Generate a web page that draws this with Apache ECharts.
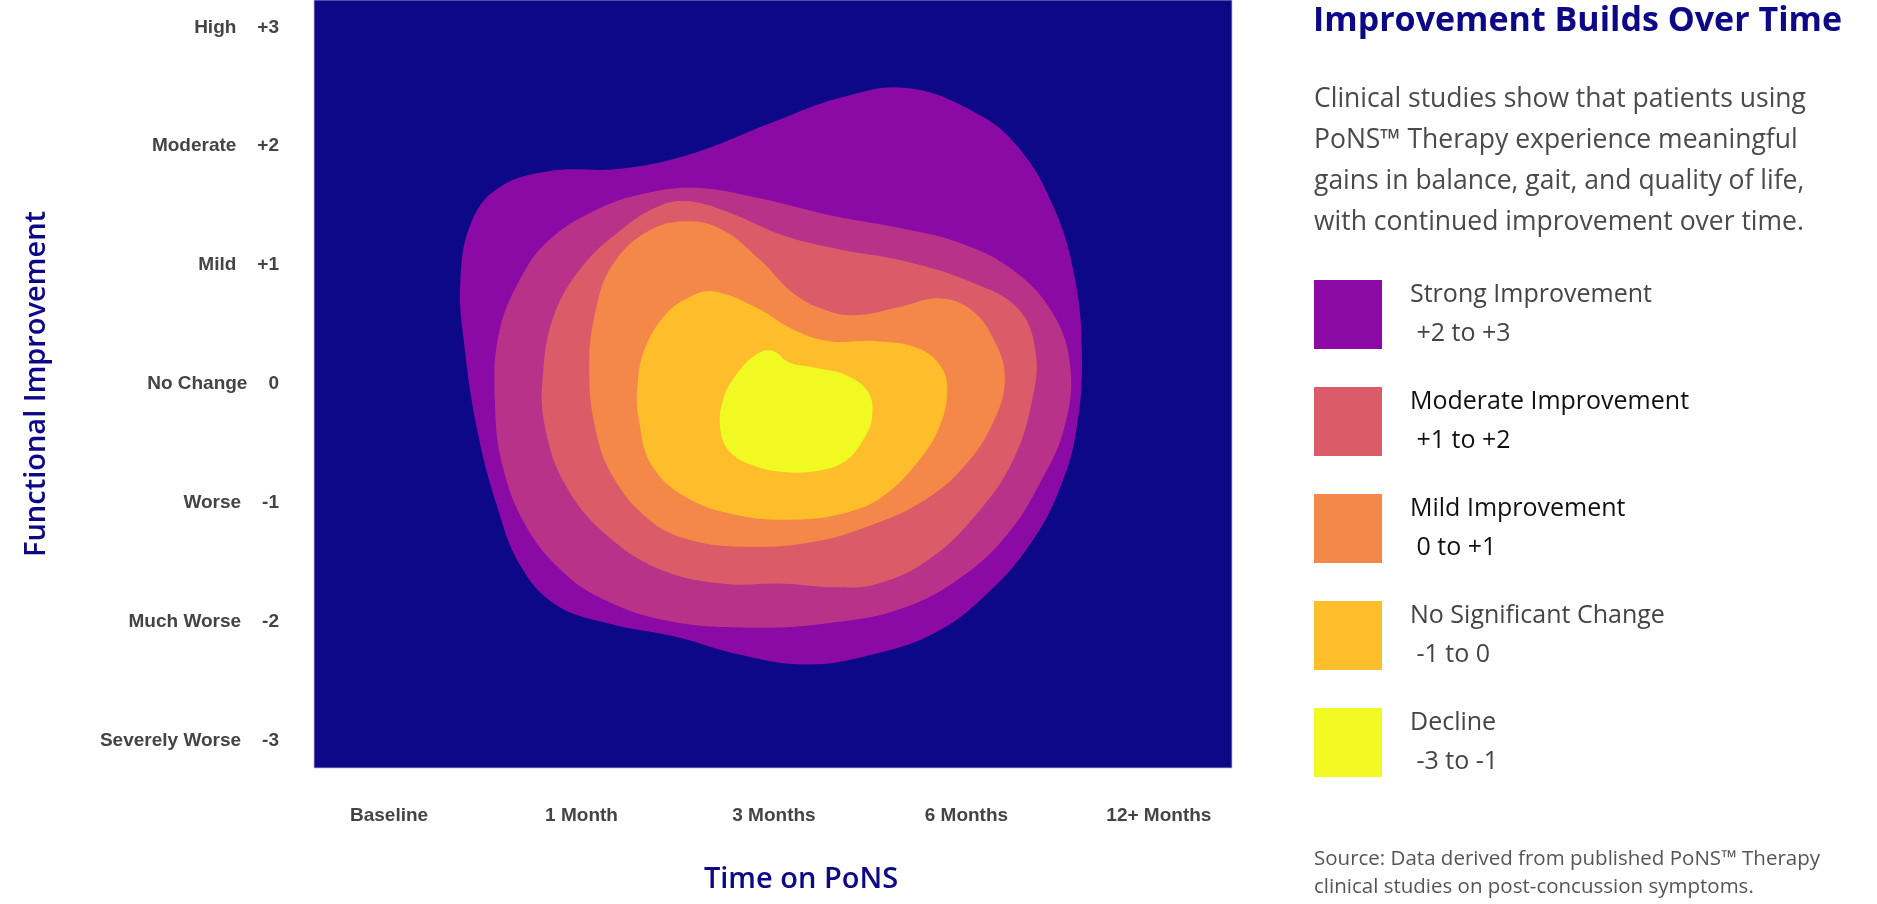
<!DOCTYPE html>
<html>
<head>
<meta charset="utf-8">
<title>Improvement Builds Over Time</title>
<script src="https://cdn.jsdelivr.net/npm/echarts@6/dist/echarts.min.js"></script>
<style>
  html, body { margin: 0; padding: 0; background: #ffffff; }
  #main { width: 1877px; height: 904px; }
</style>
</head>
<body>
<div id="main"></div>
<script>
// x: time points (value axis, one unit per category)
var categories = ['Baseline', '1 Month', '3 Months', '6 Months', '12+ Months'];
// y: functional improvement levels
var levelNames = ['Severely Worse', 'Much Worse', 'Worse', 'No Change', 'Mild', 'Moderate', 'High'];
var levelValues = ['-3', '-2', '-1', '0', '+1', '+2', '+3'];

var legendNames = ['Strong Improvement', 'Moderate Improvement', 'Mild Improvement', 'No Significant Change', 'Decline'];
var legendRanges = [' +2 to +3', ' +1 to +2', ' 0 to +1', ' -1 to 0', ' -3 to -1'];
var legendDark = [false, true, true, false, false];

// contour outlines, outer to inner, as [time, level] points
var strongBand = [
  [2.69, 2.49], [3.05, 2.28], [3.27, 1.99], [3.45, 1.50], [3.56, 0.92], [3.60, 0.26],
  [3.57, -0.40], [3.48, -0.90], [3.33, -1.35], [3.11, -1.76], [2.84, -2.09], [2.50, -2.28],
  [2.17, -2.36], [1.83, -2.28], [1.50, -2.13], [1.13, -2.01], [0.86, -1.85], [0.68, -1.52],
  [0.56, -1.02], [0.46, -0.40], [0.39, 0.34], [0.37, 0.84], [0.42, 1.33], [0.56, 1.64],
  [0.83, 1.79], [1.20, 1.81], [1.56, 1.93], [1.99, 2.20], [2.35, 2.41]
];
var upperBand = [
  [1.59, 1.65], [1.93, 1.56], [2.29, 1.42], [2.66, 1.31], [2.96, 1.19], [3.24, 0.96],
  [3.45, 0.59], [3.54, 0.14], [3.51, -0.36], [3.39, -0.81], [3.21, -1.27], [2.96, -1.64],
  [2.66, -1.89], [2.29, -2.01], [1.87, -2.05], [1.44, -1.99], [1.10, -1.80], [0.89, -1.56],
  [0.71, -1.19], [0.59, -0.69], [0.55, -0.15], [0.57, 0.42], [0.68, 0.88], [0.83, 1.21],
  [1.07, 1.46], [1.32, 1.60]
];
var moderateBand = [
  [1.53, 1.54], [1.74, 1.46], [2.05, 1.25], [2.35, 1.13], [2.66, 1.04], [3.02, 0.86],
  [3.27, 0.63], [3.36, 0.26], [3.34, -0.15], [3.24, -0.65], [3.05, -1.10], [2.81, -1.47],
  [2.54, -1.68], [2.32, -1.71], [2.05, -1.68], [1.74, -1.68], [1.41, -1.56], [1.13, -1.27],
  [0.92, -0.86], [0.81, -0.36], [0.80, 0.09], [0.86, 0.59], [1.01, 1.00], [1.20, 1.29],
  [1.38, 1.48]
];
var mildBand = [
  [1.56, 1.37], [1.74, 1.29], [1.93, 1.04], [2.11, 0.75], [2.29, 0.61], [2.44, 0.58],
  [2.66, 0.65], [2.86, 0.72], [3.02, 0.63], [3.14, 0.38], [3.20, 0.05], [3.14, -0.32],
  [2.99, -0.69], [2.78, -0.98], [2.50, -1.19], [2.20, -1.33], [1.87, -1.37], [1.56, -1.31],
  [1.35, -1.14], [1.16, -0.77], [1.07, -0.36], [1.04, 0.14], [1.07, 0.59], [1.16, 1.00],
  [1.35, 1.29]
];
var noChangeBand = [
  [1.68, 0.78], [1.90, 0.65], [2.11, 0.45], [2.29, 0.36], [2.54, 0.36], [2.75, 0.30],
  [2.87, 0.14], [2.90, -0.07], [2.86, -0.36], [2.75, -0.65], [2.57, -0.94], [2.38, -1.08],
  [2.11, -1.14], [1.80, -1.10], [1.53, -0.94], [1.36, -0.67], [1.30, -0.32], [1.29, -0.03],
  [1.33, 0.30], [1.44, 0.59], [1.56, 0.73]
];
var declineBand = [
  [1.99, 0.28], [2.08, 0.18], [2.20, 0.14], [2.38, 0.07], [2.49, -0.07], [2.51, -0.28],
  [2.46, -0.48], [2.37, -0.65], [2.23, -0.73], [2.05, -0.74], [1.90, -0.69], [1.77, -0.57],
  [1.72, -0.36], [1.74, -0.11], [1.80, 0.07], [1.90, 0.24]
];

var chart = echarts.init(document.getElementById('main'));

function bandSeries(name, points, color) {
  return {
    type: 'custom',
    name: name,
    data: points,
    encode: { x: 0, y: 1 },
    itemStyle: { color: color },
    silent: true,
    renderItem: function (params, api) {
      if (params.dataIndex !== 0) return;
      var pts = points.map(function (p) { return api.coord(p); });
      return {
        type: 'polygon',
        shape: { points: pts, smooth: 0.4 },
        style: { fill: color }
      };
    }
  };
}

var font = '"Open Sans", "Noto Sans", sans-serif';
var tickFont = '"Liberation Sans", Arial, sans-serif';

var option = {
  animation: false,
  grid: {
    left: 314, right: 645, top: 0, bottom: 136,
    show: true,
    backgroundColor: '#0d0887',
    borderColor: 'rgba(190,190,225,0.8)',
    borderWidth: 1
  },
  xAxis: {
    type: 'value',
    min: -0.39,
    max: 4.38,
    name: 'Time on PoNS',
    nameLocation: 'middle',
    nameGap: 97,
    nameTextStyle: { color: '#0d0887', fontSize: 29, fontWeight: 600, fontFamily: font, padding: [0, 0, 0, 56] },
    axisLine: { show: false },
    axisTick: { show: false },
    splitLine: { show: false },
    axisLabel: {
      customValues: [0, 1, 2, 3, 4],
      margin: 38,
      color: '#444444',
      fontSize: 19,
      fontWeight: 'bold',
      fontFamily: tickFont,
      formatter: function (v) {
        var i = Math.round(v);
        return Math.abs(v - i) < 1e-6 && categories[i] ? categories[i] : '';
      }
    }
  },
  yAxis: {
    type: 'value',
    min: -3.23,
    max: 3.23,
    name: 'Functional Improvement',
    nameLocation: 'middle',
    nameGap: 263,
    nameTextStyle: { color: '#0d0887', fontSize: 29, fontWeight: 600, fontFamily: font },
    axisLine: { show: false },
    axisTick: { show: false },
    splitLine: { show: false },
    axisLabel: {
      customValues: [-3, -2, -1, 0, 1, 2, 3],
      margin: 35,
      color: '#444444',
      fontSize: 19,
      fontWeight: 'bold',
      fontFamily: tickFont,
      formatter: function (v) {
        var i = Math.round(v) + 3;
        if (Math.abs(v - Math.round(v)) > 1e-6 || !levelNames[i]) return '';
        return '{n|' + levelNames[i] + '}{v|' + levelValues[i] + '}';
      },
      rich: {
        n: { color: '#444444', fontSize: 19, fontWeight: 'bold', fontFamily: tickFont },
        v: { color: '#444444', fontSize: 19, fontWeight: 'bold', fontFamily: tickFont, padding: [0, 0, 0, 21] }
      }
    }
  },
  legend: {
    orient: 'vertical',
    left: 1314,
    top: 280,
    padding: 0,
    itemWidth: 68,
    itemHeight: 69,
    itemGap: 38,
    icon: 'rect',
    selectedMode: false,
    data: legendNames,
    formatter: function (name) {
      var i = legendNames.indexOf(name);
      var k = legendDark[i] ? 'k' : 'g';
      return '{' + k + 'a|' + name + '}\n{' + k + 'b|' + legendRanges[i] + '}';
    },
    textStyle: {
      fontFamily: font,
      rich: {
        ga: { color: '#444444', fontSize: 25, fontFamily: font, lineHeight: 39, padding: [0, 0, 0, 23] },
        gb: { color: '#444444', fontSize: 25, fontFamily: font, lineHeight: 39, padding: [0, 0, 0, 23] },
        ka: { color: '#111111', fontSize: 25, fontFamily: font, lineHeight: 39, padding: [0, 0, 0, 23] },
        kb: { color: '#111111', fontSize: 25, fontFamily: font, lineHeight: 39, padding: [0, 0, 0, 23] }
      }
    }
  },
  graphic: [
    {
      type: 'text', x: 1313, y: 21,
      style: {
        text: 'Improvement Builds Over Time',
        font: 'bold 34px ' + font,
        fill: '#0d0887',
        verticalAlign: 'middle'
      }
    },
    {
      type: 'text', x: 1314, y: 79,
      style: {
        text: 'Clinical studies show that patients using\nPoNS\u2122 Therapy experience meaningful\ngains in balance, gait, and quality of life,\nwith continued improvement over time.',
        font: '26.5px ' + font,
        fill: '#4a4a4a',
        lineHeight: 41,
        verticalAlign: 'top'
      }
    },
    {
      type: 'text', x: 1314, y: 845,
      style: {
        text: 'Source: Data derived from published PoNS\u2122 Therapy\nclinical studies on post-concussion symptoms.',
        font: '20.5px ' + font,
        fill: '#555555',
        lineHeight: 28,
        verticalAlign: 'top'
      }
    }
  ],
  series: [
    bandSeries('Strong Improvement', strongBand, '#8b0aa5'),
    bandSeries('Upper Transition', upperBand, '#b83289'),
    bandSeries('Moderate Improvement', moderateBand, '#db5c68'),
    bandSeries('Mild Improvement', mildBand, '#f48849'),
    bandSeries('No Significant Change', noChangeBand, '#febd2a'),
    bandSeries('Decline', declineBand, '#f0f921')
  ]
};

chart.setOption(option);
</script>
</body>
</html>
